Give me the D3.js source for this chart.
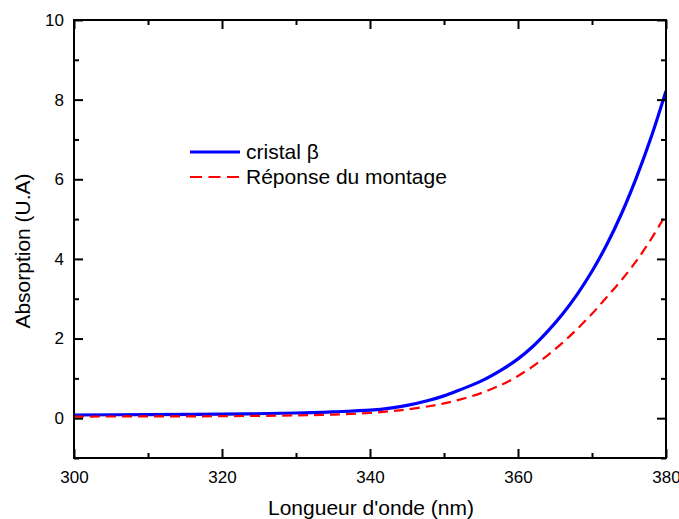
<!DOCTYPE html>
<html>
<head>
<meta charset="utf-8">
<script src="https://cdn.jsdelivr.net/npm/d3@7"></script>
<style>
  body { margin: 0; background: #fff; }
  svg { display: block; }
  text { font-family: "Liberation Sans", Arial, sans-serif; fill: #000; }
</style>
</head>
<body>
<svg id="chart" width="679" height="519"></svg>
<script>
// Wavelength (nm)
const wavelengths = [300, 310, 320, 330, 335, 340, 343, 345, 348, 350, 352, 355, 358, 360, 362, 364, 366, 368, 370, 372, 374, 376, 378, 380];
// cristal β absorption
const cristalBeta = [0.08, 0.09, 0.10, 0.13, 0.16, 0.20, 0.26, 0.32, 0.45, 0.56, 0.70, 0.93, 1.24, 1.49, 1.80, 2.18, 2.61, 3.11, 3.69, 4.36, 5.14, 6.04, 7.06, 8.22];
// Réponse du montage
const reponse = [0.04, 0.045, 0.05, 0.07, 0.09, 0.13, 0.18, 0.22, 0.30, 0.37, 0.46, 0.63, 0.86, 1.06, 1.30, 1.58, 1.89, 2.24, 2.62, 3.04, 3.47, 3.95, 4.50, 5.12];

const xTicks = [300, 320, 340, 360, 380];
const xMinor = [310, 330, 350, 370];
const yTicks = [0, 2, 4, 6, 8, 10];
const yMinor = [-1, 1, 3, 5, 7, 9];
const seriesNames = ["cristal β", "Réponse du montage"];

const svg = d3.select("#chart");
const L = 74, R = 666, T = 20, B = 458;

const x = d3.scaleLinear().domain([300, 380]).range([L, R]);
const y = d3.scaleLinear().domain([-1, 10]).range([B, T]);

const g = svg.append("g");

// curves
const line = d3.line().x(d => x(d[0])).y(d => y(d[1])).curve(d3.curveCatmullRom.alpha(0.5));
svg.append("clipPath").attr("id", "clip").append("rect")
  .attr("x", L).attr("y", T).attr("width", R - L).attr("height", B - T);

const dataRed = wavelengths.map((w, i) => [w, reponse[i]]);
const dataBlue = wavelengths.map((w, i) => [w, cristalBeta[i]]);

g.append("path").datum(dataBlue).attr("clip-path", "url(#clip)")
  .attr("d", line).attr("fill", "none").attr("stroke", "#0000ff").attr("stroke-width", 3.2);
g.append("path").datum(dataRed).attr("clip-path", "url(#clip)")
  .attr("d", line).attr("fill", "none").attr("stroke", "#ff0000").attr("stroke-width", 2.2)
  .attr("stroke-dasharray", "10,6");

// axes (ticks inward, mirrored)
const fs = "17px";
function styleAxis(sel) {
  sel.select(".domain").remove();
  sel.selectAll("line").attr("stroke", "#000").attr("stroke-width", 2);
}
const axB = g.append("g").attr("transform", `translate(0,${B})`)
  .call(d3.axisBottom(x).tickValues(xTicks).tickSize(-9).tickPadding(13).tickFormat(d3.format("d")));
styleAxis(axB); axB.selectAll("text").style("font-size", fs);
const axBm = g.append("g").attr("transform", `translate(0,${B})`)
  .call(d3.axisBottom(x).tickValues(xMinor).tickSize(-5).tickFormat(""));
styleAxis(axBm);
const axT = g.append("g").attr("transform", `translate(0,${T})`)
  .call(d3.axisTop(x).tickValues(xTicks).tickSize(-9).tickFormat(""));
styleAxis(axT);
const axTm = g.append("g").attr("transform", `translate(0,${T})`)
  .call(d3.axisTop(x).tickValues(xMinor).tickSize(-5).tickFormat(""));
styleAxis(axTm);

const axL = g.append("g").attr("transform", `translate(${L},0)`)
  .call(d3.axisLeft(y).tickValues(yTicks).tickSize(-9).tickPadding(10).tickFormat(d3.format("d")));
styleAxis(axL); axL.selectAll("text").style("font-size", fs);
const axLm = g.append("g").attr("transform", `translate(${L},0)`)
  .call(d3.axisLeft(y).tickValues(yMinor).tickSize(-5).tickFormat(""));
styleAxis(axLm);
const axR = g.append("g").attr("transform", `translate(${R},0)`)
  .call(d3.axisRight(y).tickValues(yTicks).tickSize(-9).tickFormat(""));
styleAxis(axR);
const axRm = g.append("g").attr("transform", `translate(${R},0)`)
  .call(d3.axisRight(y).tickValues(yMinor).tickSize(-5).tickFormat(""));
styleAxis(axRm);

// frame
g.append("rect").attr("x", L).attr("y", T).attr("width", R - L).attr("height", B - T)
  .attr("fill", "none").attr("stroke", "#000").attr("stroke-width", 2);

// axis titles
svg.append("text").attr("x", 371).attr("y", 515).attr("text-anchor", "middle")
  .style("font-size", "21px").text("Longueur d'onde (nm)");
svg.append("text").attr("transform", `translate(30,251) rotate(-90)`)
  .attr("text-anchor", "middle").style("font-size", "21px").text("Absorption (U.A)");

// legend
const leg = svg.append("g");
leg.append("line").attr("x1", 190).attr("x2", 240).attr("y1", 152).attr("y2", 152)
  .attr("stroke", "#0000ff").attr("stroke-width", 3.2);
leg.append("line").attr("x1", 190).attr("x2", 240).attr("y1", 177).attr("y2", 177)
  .attr("stroke", "#ff0000").attr("stroke-width", 2.2).attr("stroke-dasharray", "12,6.5");
leg.append("text").attr("x", 246).attr("y", 159).style("font-size", "21px").text(seriesNames[0]);
leg.append("text").attr("x", 246).attr("y", 184).style("font-size", "21px").text(seriesNames[1]);
</script>
</body>
</html>
